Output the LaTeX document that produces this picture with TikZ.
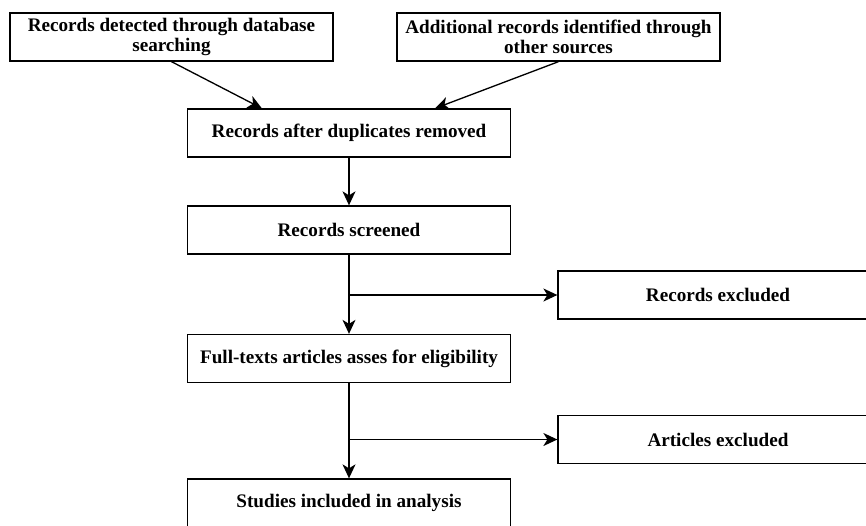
\documentclass[tikz,border=0pt]{standalone}
\usepackage{fontspec}
\setmainfont{Liberation Serif}
\usetikzlibrary{arrows.meta,calc}

\begin{document}
\begin{tikzpicture}[x=0.02cm,y=-0.02cm,
  box/.style={draw,line width=0.75pt,minimum width=6.46cm,minimum height=0.96cm,inner sep=2pt,align=center,font=\fontsize{10.9}{11.8}\selectfont\bfseries},
  arr/.style={line width=0.75pt,-{Stealth[length=2.8mm,width=2.6mm,inset=0.8mm]}}]

\useasboundingbox (0,0) rectangle (866,525);

% Sources
\node[box] (src1) at (171.5,37) {Records detected through database\\searching};
\node[box] (src2) at (558.5,37) {Additional records identified through\\other sources};

% Main column
\node[box] (dedup) at (349,133) {Records after duplicates removed};
\node[box] (screen) at (349,230) {Records screened};
\node[box] (fulltext) at (349,358.5) {Full-texts articles asses for eligibility};
\node[box] (studies) at (349,503) {Studies included in analysis};

% Exclusions (cut by the right edge)
\node[box,minimum width=6.4cm] (recexcl) at (718,295) {Records excluded};
\node[box,minimum width=6.4cm] (artexcl) at (718,439.5) {Articles excluded};

\draw[arr] (src1.south) -- ($(dedup.north west)+(75,0)$);
\draw[arr] (src2.south) -- ($(dedup.north east)+(-76,0)$);
\draw[arr] (dedup.south) -- (screen.north);
\draw[arr] (screen.south) -- (fulltext.north);
\draw[arr] (screen.south |- recexcl.west) -- (recexcl.west);
\draw[arr] (fulltext.south) -- (studies.north);
\draw[arr] (fulltext.south |- artexcl.west) -- (artexcl.west);
\end{tikzpicture}
\end{document}
